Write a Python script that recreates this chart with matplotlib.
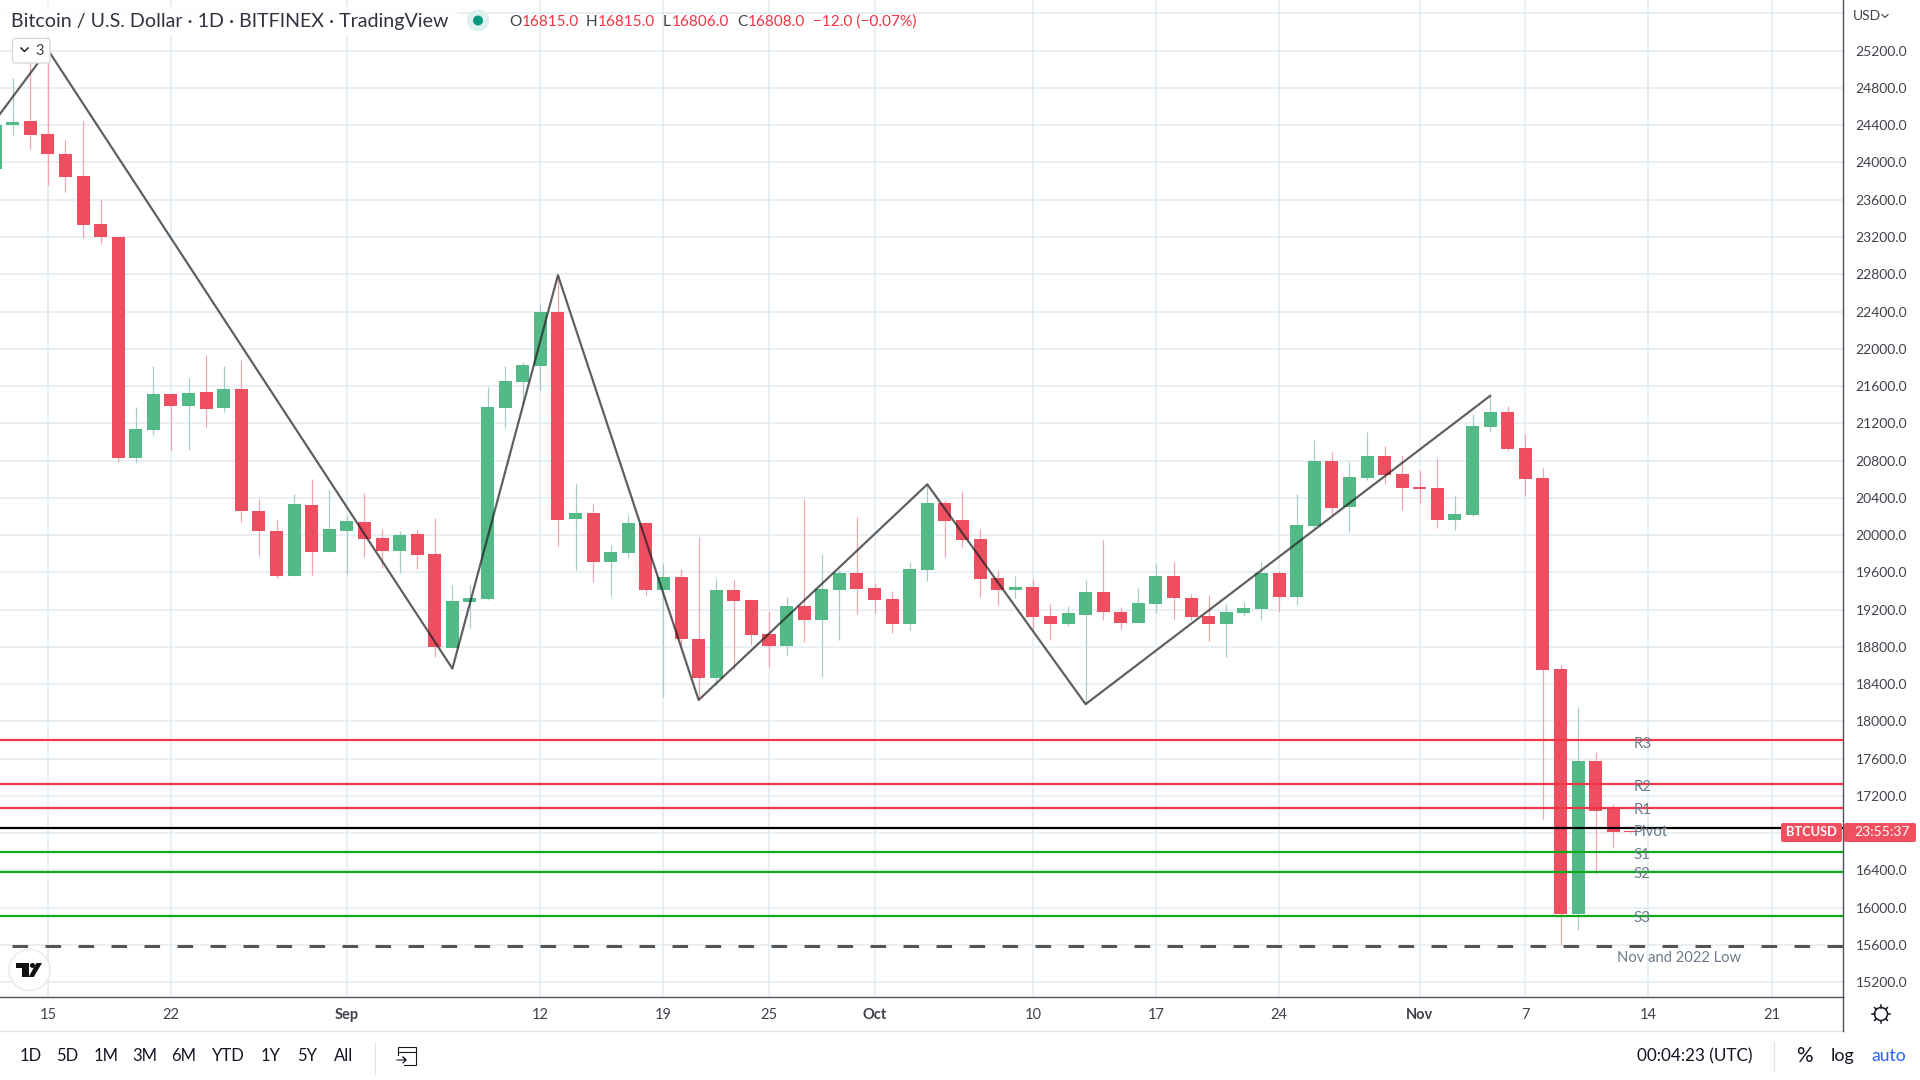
# -*- coding: utf-8 -*-
# BTCUSD daily chart with pivot levels, TradingView style
import numpy as np
import matplotlib
matplotlib.use("Agg")
import matplotlib.pyplot as plt
from matplotlib.patches import FancyBboxPatch, Circle, Polygon, Rectangle

plt.rcParams['font.family'] = ['Lato', 'DejaVu Sans']
plt.rcParams['lines.scale_dashes'] = False

# days counted from 15 Aug 2022
days = list(range(-3, 91))
opens = [23930, 24400, 24440, 24310, 24090, 23852, 23340, 23200, 20825, 21128, 21517, 21388, 21539, 21367, 21572,
         20263, 20047, 19560, 20327, 19820, 20047, 20144, 19970, 19830, 20010, 19800, 18790, 19280, 19310, 21367,
         21645, 21820, 22400, 20175, 20240, 19710, 19810, 20133, 19409, 19550, 18890, 18468, 19409, 19300, 18940,
         18815, 19236, 19085, 19409, 19593, 19430, 19310, 19050, 19625, 20350, 20165, 19960, 19540, 19410, 19442,
         19130, 19050, 19140, 19390, 19180, 19060, 19257, 19560, 19330, 19130, 19045, 19160, 19204, 19593, 19335,
         20100, 20793, 20306, 20610, 20845, 20660, 20520, 20510, 20165, 20220, 21160, 21320, 20935, 20610, 18560,
         15930, 17580, 17075, 16815]
highs = [24500, 24908, 25100, 25210, 24241, 24445, 23600, 23200, 21376, 21810, 21517, 21690, 21928, 21820, 21885,
         20393, 20176, 20436, 20600, 20500, 20220, 20447, 20068, 20047, 20068, 20187, 19465, 19465, 21593, 21810,
         21853, 22486, 22790, 20545, 20330, 19895, 20220, 20140, 19700, 19636, 19980, 19528, 19517, 19310, 19190,
         19333, 20390, 19800, 19625, 20190, 19485, 19400, 19710, 20545, 20372, 20470, 20070, 19625, 19560, 19530,
         19258, 19236, 19517, 19950, 19225, 19430, 19690, 19710, 19365, 19355, 19258, 19280, 19710, 19615, 20436,
         21020, 20890, 20790, 21105, 20955, 20860, 20700, 20825, 20415, 21300, 21495, 21390, 21085, 20718, 18610,
         18150, 17670, 17115, 16815]
lows = [23900, 24290, 24145, 23755, 23683, 23185, 23120, 20790, 20770, 21072, 20912, 20912, 21160, 21324, 20144,
        19776, 19540, 19560, 19570, 19820, 19580, 19766, 19650, 19593, 19640, 18690, 18790, 19000, 19300, 21150,
        21400, 21560, 19885, 19625, 19500, 19350, 19770, 19355, 18267, 18825, 18240, 18393, 18560, 18825, 18585,
        18700, 18850, 18480, 18870, 19150, 19160, 18950, 18980, 19505, 19760, 19875, 19335, 19247, 19320, 18990,
        18870, 19020, 18190, 19085, 18990, 19060, 19160, 19095, 19085, 18860, 18690, 19130, 19085, 19170, 19247,
        20080, 20220, 20036, 20590, 20545, 20265, 20350, 20080, 20058, 20210, 21105, 20900, 20425, 16956, 15600,
        15760, 16360, 16640, 16806]
closes = [24400, 24430, 24300, 24090, 23842, 23330, 23200, 20825, 21139, 21517, 21388, 21528, 21356, 21572, 20263,
          20047, 19560, 20338, 19820, 20068, 20155, 19960, 19830, 20000, 19788, 18800, 19290, 19322, 21377, 21658,
          21831, 22400, 20166, 20240, 19710, 19820, 20130, 19409, 19550, 18880, 18468, 19409, 19290, 18930, 18815,
          19236, 19085, 19420, 19593, 19420, 19300, 19050, 19635, 20350, 20155, 19950, 19530, 19410, 19442, 19120,
          19050, 19160, 19390, 19170, 19060, 19268, 19560, 19320, 19120, 19045, 19170, 19215, 19593, 19335, 20112,
          20793, 20295, 20620, 20845, 20640, 20510, 20498, 20165, 20230, 21170, 21320, 20925, 20600, 18555, 15930,
          17580, 17040, 16815, 16808]

# zigzag drawing
zig_days = [-3, 0, 23, 29, 37, 50, 59, 82]
zig_prices = [24450, 25210, 18567, 22790, 18230, 20545, 18185, 21495]

# pivot levels
level_names = ["R3", "R2", "R1", "Pivot", "S1", "S2", "S3"]
level_prices = [17798, 17330, 17075, 16858, 16600, 16380, 15908]
level_colors = ["#F23645", "#F23645", "#F23645", "#000000", "#12A81E", "#12A81E", "#12A81E"]
low_price = 15586

y_ticks = list(range(15200, 26000, 400))
y_labels = ["%.1f" % p for p in y_ticks[:-1]] + [""]
x_ticks = [0, 7, 17, 28, 35, 41, 47, 56, 63, 70, 78, 84, 91, 98]
x_labels = ["15", "22", "Sep", "12", "19", "25", "Oct", "10", "17", "24", "Nov", "7", "14", "21"]
range_buttons = ["1D", "5D", "1M", "3M", "6M", "YTD", "1Y", "5Y", "All"]
range_x = [30.5, 67.5, 106, 145, 184, 228, 270.5, 307, 344]

RED = "#EE4F60"
GREEN = "#53B987"
RED_WICK = "#F7A3AE"
GREEN_WICK = "#A3CDC9"
GRID = "#E3ECF2"
AXIS = "#50535E"
TXT = "#3F424C"
PX = 0.72  # one pixel in points at dpi 100

fig = plt.figure(figsize=(19.2, 10.8), dpi=100, facecolor="white")
ax = fig.add_axes([0, 83 / 1080, 1843 / 1920, 997 / 1080])
ax.set_xlim(-2.72, 102.06)
ax.set_ylim(15042, 25744)

ax.set_yticks(y_ticks)
ax.set_yticklabels(y_labels, fontsize=10, color=TXT)
ax.yaxis.tick_right()
ax.set_xticks(x_ticks)
ax.set_xticklabels(x_labels, fontsize=10.5, color=TXT)
for t, lab in zip(ax.get_xticklabels(), x_labels):
    if lab in ("Sep", "Oct", "Nov"):
        t.set_fontweight("bold")
ax.tick_params(axis="y", length=0, pad=9)
ax.tick_params(axis="x", length=0, pad=8)
ax.grid(color=GRID, linewidth=1.5 * PX)
ax.set_axisbelow(True)
for s in ["top", "left"]:
    ax.spines[s].set_visible(False)
for s in ["right", "bottom"]:
    ax.spines[s].set_color(AXIS)
    ax.spines[s].set_linewidth(1.4 * PX)

o = np.array(opens)
h = np.array(highs)
l = np.array(lows)
c = np.array(closes)
d = np.array(days)
up = c >= o
ax.vlines(d[up], l[up], h[up], color=GREEN_WICK, linewidth=1.2 * PX, zorder=2)
ax.vlines(d[~up], l[~up], h[~up], color=RED_WICK, linewidth=1.2 * PX, zorder=2)
bottoms = np.minimum(o, c)
heights = np.maximum(np.abs(c - o), 12)
ax.bar(d[up], heights[up], bottom=bottoms[up], width=0.74, color=GREEN, linewidth=0, zorder=3)
ax.bar(d[~up], heights[~up], bottom=bottoms[~up], width=0.74, color=RED, linewidth=0, zorder=3)

for price, col in zip(level_prices, level_colors):
    ax.axhline(price, color=col, linewidth=2.2 * PX, zorder=4)
ax.axhline(low_price, color="#555555", linewidth=3 * PX, zorder=4,
           linestyle=(21 * PX, (15.6 * PX, 17.4 * PX)), dash_capstyle="butt")
ax.plot(zig_days, zig_prices, color="#222222", alpha=0.72, linewidth=2.2 * PX, zorder=5)

# small drop of each label under its own line, in pixels
for name, price, drop in zip(level_names, level_prices, [4, 3, 2, 4, 3, 2, 2]):
    ax.annotate(name, xy=(90.15, price), xytext=(0, -drop * PX), textcoords="offset points",
                color="#6E7A8A", fontsize=10.8, va="center", ha="left", zorder=6)
ax.text(89.2, low_price - 125, "Nov and 2022 Low", color="#6E7A8A", fontsize=10.6, ha="left", va="center", zorder=6)

# overlay in screen pixels for the window furniture
ui = fig.add_axes([0, 0, 1, 1], facecolor="none")
ui.set_xlim(0, 1920)
ui.set_ylim(1080, 0)
ui.axis("off")

ui.add_patch(Rectangle((0, 6), 458, 30, fc="white", ec="none", alpha=0.75))
ui.text(11, 21.5, "Bitcoin / U.S. Dollar \u00b7 1D \u00b7 BITFINEX \u00b7 TradingView", fontsize=14.1,
        color="#303340", va="center")
ui.add_patch(Circle((478, 20.5), 11, fc="#DDF1EE", ec="none"))
ui.add_patch(Circle((478, 20.5), 5, fc="#089981", ec="none"))

legend_red = "#F23645"
for x, s, col in [(509, "O", TXT), (522, "16815.0", legend_red), (586, "H", TXT), (598, "16815.0", legend_red),
                  (663, "L", TXT), (672, "16806.0", legend_red), (737, "C", TXT), (748, "16808.0", legend_red),
                  (813, "\u221212.0 (\u22120.07%)", legend_red)]:
    ui.text(x, 21.5, s, fontsize=11.1, color=col, va="center")

# collapse button
ui.add_patch(FancyBboxPatch((12.5, 38.5), 37.5, 24.5, boxstyle="round,pad=0,rounding_size=3", fc="white",
                            ec="#D6D8DE", linewidth=0.9))
ui.plot([21, 24.5, 28], [48, 51.5, 48], color="#222222", linewidth=1.1)
ui.text(40, 51, "3", fontsize=10.5, color=TXT, ha="center", va="center")

# logo
ui.add_patch(Circle((29.5, 970), 20.5, fc="white", ec="#EDEDED", linewidth=1.3))
ui.add_patch(Polygon([(16, 963), (28.7, 963), (28.7, 977), (22, 977), (22, 968), (16, 968)], fc="#111111", ec="none"))
ui.add_patch(Circle((32.5, 965.5), 2.5, fc="#111111", ec="none"))
ui.add_patch(Polygon([(28.7, 977), (36.4, 963), (42, 963), (33.7, 977)], fc="#111111", ec="none"))

# price labels
ui.add_patch(FancyBboxPatch((1781, 823), 61, 19, boxstyle="round,pad=0,rounding_size=2", fc="#EF4F5F", ec="none"))
ui.add_patch(FancyBboxPatch((1844, 823), 72, 19, boxstyle="round,pad=0,rounding_size=2", fc="#EF4F5F", ec="none"))
ui.text(1811.5, 832.5, "BTCUSD", color="white", fontsize=9.3, fontweight="bold", ha="center", va="center")
ui.text(1881.8, 832.5, "23:55:37", color="white", fontsize=10, ha="center", va="center")

ui.text(1867, 16, "USD", color=TXT, fontsize=10, ha="center", va="center")
ui.plot([1882, 1885, 1888], [14.5, 17.5, 14.5], color=TXT, linewidth=0.8)

# settings icon
ui.add_patch(Circle((1881, 1014), 6.5, fc="none", ec="#131722", linewidth=1.1))
for a in np.arange(0, 2 * np.pi, np.pi / 4):
    ui.plot([1881 + 6.5 * np.cos(a), 1881 + 9 * np.cos(a)], [1014 + 6.5 * np.sin(a), 1014 + 9 * np.sin(a)],
            color="#131722", linewidth=1.1)

# bottom bar
ui.plot([0, 1843], [1031, 1031], color="#E0E3EB", linewidth=1.0)
ui.plot([1843, 1843], [997, 1031], color=AXIS, linewidth=1.0)
ui.plot([375, 375], [1058 - 16, 1058 + 16], color="#E0E3EB", linewidth=0.9)
ui.plot([1774, 1774], [1042, 1070], color="#E0E3EB", linewidth=0.9)
for x, s in zip(range_x, range_buttons):
    ui.text(x, 1056, s, fontsize=12, color="#131722", ha="center", va="center")
# calendar icon
ui.add_patch(Rectangle((398, 1047), 18, 18, fc="none", ec="#131722", linewidth=0.8))
ui.plot([398, 416], [1052, 1052], color="#131722", linewidth=0.8)
ui.add_patch(Rectangle((396, 1056), 8, 10, fc="white", ec="none"))
ui.plot([397, 406, 403, 406, 403], [1060, 1060, 1057, 1060, 1063], color="#131722", linewidth=0.8)

ui.text(1695, 1056, "00:04:23 (UTC)", fontsize=12.3, color="#131722", ha="center", va="center")
ui.text(1804, 1056, "%", fontsize=15, color="#131722", ha="center", va="center")
ui.text(1842, 1056, "log", fontsize=13, color="#131722", ha="center", va="center")
ui.text(1889, 1056, "auto", fontsize=12.6, color="#2962FF", ha="center", va="center")

fig.savefig("out.png", dpi=100)
